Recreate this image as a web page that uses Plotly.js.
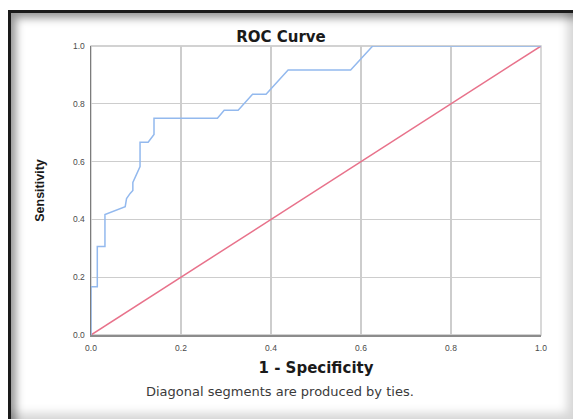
<!DOCTYPE html>
<html>
<head>
<meta charset="utf-8">
<script src="https://cdn.plot.ly/plotly-3.0.1.min.js"></script>
<style>
  html, body { margin:0; padding:0; background:#fff; }
  #wrap { position:relative; width:573px; height:419px; overflow:hidden; }
  #chart { position:absolute; left:0; top:0; width:573px; height:419px; }
  #frame {
    position:absolute; left:8px; top:10px; right:0; bottom:0;
    border-left:3px solid #1a1a1a; border-top:3px solid #1a1a1a;
    box-shadow: inset 7px 7px 9px -2px rgba(0,0,0,0.42), inset -12px -12px 10px -6px rgba(0,0,0,0.16);
    pointer-events:none;
  }
</style>
</head>
<body>
<div id="wrap">
  <div id="chart"></div>
  <div id="frame"></div>
</div>
<script>
// ROC curve points (1 - specificity, sensitivity)
const rocFpr = [0, 0, 0.014, 0.014, 0.031, 0.031, 0.076, 0.079, 0.087, 0.093, 0.093, 0.109, 0.109, 0.127, 0.14, 0.14, 0.281, 0.296, 0.327, 0.359, 0.389, 0.438, 0.577, 0.626, 1];
const rocTpr = [0, 0.167, 0.167, 0.306, 0.306, 0.417, 0.444, 0.472, 0.49, 0.5, 0.528, 0.583, 0.667, 0.667, 0.694, 0.75, 0.75, 0.778, 0.778, 0.833, 0.833, 0.917, 0.917, 1, 1];
// Reference line
const refX = [0, 1];
const refY = [0, 1];
// Tick labels
const tickVals = [0, 0.2, 0.4, 0.6, 0.8, 1.0];
const tickText = ['0.0', '0.2', '0.4', '0.6', '0.8', '1.0'];

const traces = [
  { x: refX, y: refY, type:'scatter', mode:'lines', name:'Reference Line',
    line:{ color:'#e8728b', width:1.5 }, hoverinfo:'skip' },
  { x: rocFpr, y: rocTpr, type:'scatter', mode:'lines', name:'ROC',
    line:{ color:'#93b9ee', width:1.5 } }
];

const tickFont = { family:'Liberation Sans, Arial, sans-serif', size:8.5, color:'#4a4a4a' };
const titleFont = { family:'DejaVu Sans, sans-serif', size:15, color:'#1a1a1a' };

const layout = {
  width:573, height:419,
  margin:{ l:91, r:32, t:46, b:84, pad:0 },
  paper_bgcolor:'#ffffff', plot_bgcolor:'#ffffff',
  showlegend:false,
  title:{ text:'<b>ROC Curve</b>', font:titleFont,
    xref:'container', x:281/573, xanchor:'center',
    yref:'container', y:1-37/419, yanchor:'middle' },
  xaxis:{ range:[0,1], tickvals:tickVals, ticktext:tickText, showgrid:true,
    gridcolor:'#cdcdcd', gridwidth:1.4, zeroline:false, showline:true,
    linecolor:'#8c8c8c', linewidth:1.5, ticks:'', tickfont:tickFont,
    ticklabelstandoff:4,
    title:{ text:'<b>1 - Specificity</b>', font:titleFont, standoff:11 }, fixedrange:true },
  yaxis:{ range:[0,1], tickvals:tickVals, ticktext:tickText, showgrid:true,
    gridcolor:'#cdcdcd', gridwidth:1.2, zeroline:false, showline:true,
    linecolor:'#7c7c7c', linewidth:1.5, ticks:'', tickfont:tickFont,
    ticklabelstandoff:3,
    title:{ text:'<b>Sensitivity</b>', font:{ family:'Liberation Sans, Arial, sans-serif', size:12.5, color:'#1a1a1a' }, standoff:25 }, fixedrange:true },
  shapes:[
    { type:'rect', xref:'paper', yref:'paper', x0:0, y0:0, x1:1, y1:1,
      line:{ color:'#c4c4c4', width:1.3 }, layer:'below' }
  ],
  annotations:[
    { text:'Diagonal segments are produced by ties.', xref:'paper', yref:'paper',
      x:(280-91)/450, y:(335-391)/289, xanchor:'center', yanchor:'middle',
      showarrow:false, font:{ family:'DejaVu Sans, sans-serif', size:13, color:'#3a3a3a' } }
  ]
};

Plotly.newPlot('chart', traces, layout, { displayModeBar:false, staticPlot:true });
</script>
</body>
</html>
